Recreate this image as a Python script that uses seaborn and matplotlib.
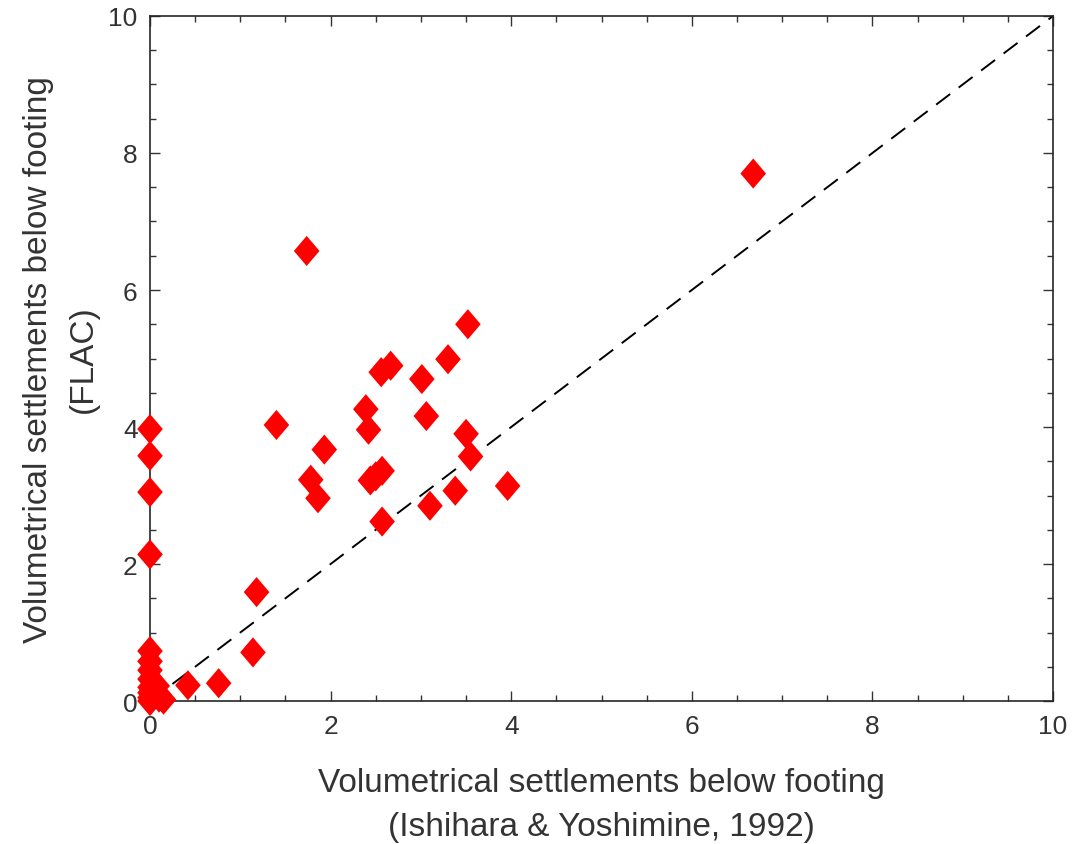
import numpy as np
import pandas as pd
import matplotlib
matplotlib.use("Agg")
import matplotlib.pyplot as plt
from matplotlib.ticker import MultipleLocator
import seaborn as sns

# Measured settlements (Ishihara & Yoshimine, 1992) vs. FLAC predictions
ishihara = [
    0.0, 0.0, 0.0, 0.0, 0.0, 0.0, 0.0, 0.0, 0.0, 0.0, 0.0, 0.0,
    0.05, 0.10, 0.15, 0.08,
    0.42, 0.76, 1.14, 1.18,
    1.40, 1.735, 1.78, 1.86, 1.93,
    2.39, 2.42, 2.44, 2.50, 2.57, 2.57, 2.56, 2.665,
    3.01, 3.06, 3.10, 3.30, 3.38, 3.50, 3.52, 3.55, 3.96,
    6.68,
]
flac = [
    3.97, 3.58, 3.05, 2.14, 0.73, 0.58, 0.45, 0.32, 0.20, 0.12, 0.05, 0.0,
    0.10, 0.05, 0.02, 0.22,
    0.23, 0.26, 0.71, 1.59,
    4.03, 6.57, 3.23, 2.96, 3.67,
    4.26, 3.96, 3.22, 3.28, 3.36, 2.62, 4.80, 4.895,
    4.70, 4.16, 2.85, 4.99, 3.07, 3.90, 5.50, 3.57, 3.14,
    7.70,
]
axis_ticks = [0, 2, 4, 6, 8, 10]

df = pd.DataFrame({"ishihara": ishihara, "flac": flac})

sns.set_style("ticks")
plt.rcParams["font.family"] = ["Liberation Sans", "DejaVu Sans"]

text_color = "#333333"
fig = plt.figure(figsize=(10.73, 8.45), dpi=100)
ax = fig.add_axes([0.1398, 0.1692, 0.8416, 0.8107])

# slightly tall diamond, like the classic plotting-package marker
diamond = [(0, 1), (0.85, 0), (0, -1), (-0.85, 0), (0, 1)]

ax.plot([0, 10], [0, 10], color="black", linestyle=(0, (9, 5.5)), linewidth=1.4, zorder=1)
sns.scatterplot(data=df, x="ishihara", y="flac", ax=ax, marker=diamond, s=470,
                color="red", edgecolor="none", linewidth=0, zorder=3, legend=False,
                clip_on=False)

ax.set_xlim(0, 10)
ax.set_ylim(0, 10)
ax.set_xticks(axis_ticks)
ax.set_yticks(axis_ticks)
ax.set_xticklabels([str(t) for t in axis_ticks])
ax.set_yticklabels([str(t) for t in axis_ticks])
ax.xaxis.set_minor_locator(MultipleLocator(0.5))
ax.yaxis.set_minor_locator(MultipleLocator(0.5))
ax.tick_params(which="both", direction="in", top=True, right=True,
               colors=text_color, labelsize=19, width=1.0)
ax.tick_params(which="major", length=7, pad=9)
ax.tick_params(which="minor", length=4)
for side in ax.spines.values():
    side.set_visible(True)
    side.set_color("#262626")
    side.set_linewidth(1.2)

ax.set_xlabel("Volumetrical settlements below footing\n(Ishihara & Yoshimine, 1992)",
              fontsize=24, color=text_color, labelpad=21, linespacing=1.55)
ax.set_ylabel("Volumetrical settlements below footing\n(FLAC)",
              fontsize=24, color=text_color, labelpad=7, linespacing=1.55)

fig.savefig("out.png", dpi=100, facecolor="white")
